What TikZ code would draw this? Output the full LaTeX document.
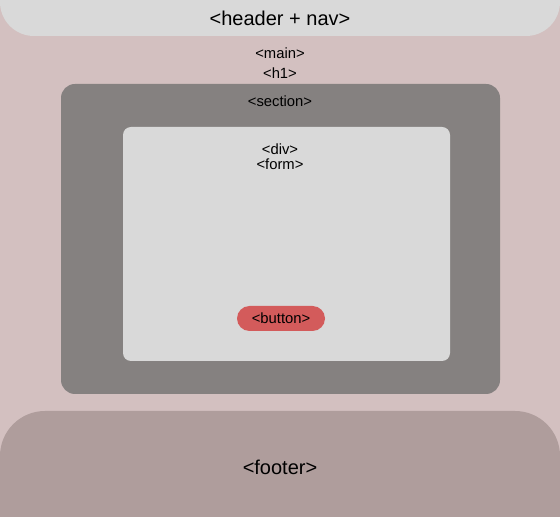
\documentclass[tikz,border=0pt]{standalone}
\usepackage{fontspec}
\setmainfont{Liberation Sans}
\usetikzlibrary{positioning}
\definecolor{pagebg}{RGB}{211,192,192}
\definecolor{lightpanel}{RGB}{217,217,217}
\definecolor{sectiongrey}{RGB}{133,129,128}
\definecolor{buttonred}{RGB}{211,91,91}
\definecolor{footerbrown}{RGB}{175,157,156}

\begin{document}
\begin{tikzpicture}[
            x=1pt, y=1pt,
            panel/.style={inner sep=0pt, outer sep=0pt},
            tag/.style={font=\fontsize{14.8}{16}\selectfont, inner sep=0pt},
            bigtag/.style={font=\fontsize{20}{22}\selectfont, inner sep=0pt}
        ]
            \clip (0,0) rectangle (560,517);
            \fill[pagebg] (0,0) rectangle (560,517);

            \node[panel, fill=lightpanel, rounded corners=34pt, minimum width=560pt, minimum height=72pt] (header) at (280,517) {};
            \node[bigtag] (headertext) at (280,499) {<header + nav>};

            \node[tag] (main) at (280,464) {<main>};
            \node[tag] (h1) at (280,444) {<h1>};

            \node[panel, fill=sectiongrey, rounded corners=14pt, minimum width=439pt, minimum height=310pt] (section) at (280.5,278) {};
            \node[tag] (sectiontext) at (280,416) {<section>};

            \node[panel, fill=lightpanel, rounded corners=8pt, minimum width=327pt, minimum height=234pt] (div) at (286.5,273) {};
            \node[tag] (divtext) at (280,368) {<div>};
            \node[tag] (form) at (280,353) {<form>};

            \node[panel, fill=buttonred, rounded corners=12.5pt, minimum width=88pt, minimum height=25pt, font=\fontsize{14.8}{16}\selectfont] (button) at (281,198.5) {<button>};

            \node[panel, fill=footerbrown, rounded corners=45pt, minimum width=560pt, minimum height=212pt] (footer) at (280,0) {};
            \node[bigtag] (footertext) at (280,50) {<footer>};
        \end{tikzpicture}
\end{document}
